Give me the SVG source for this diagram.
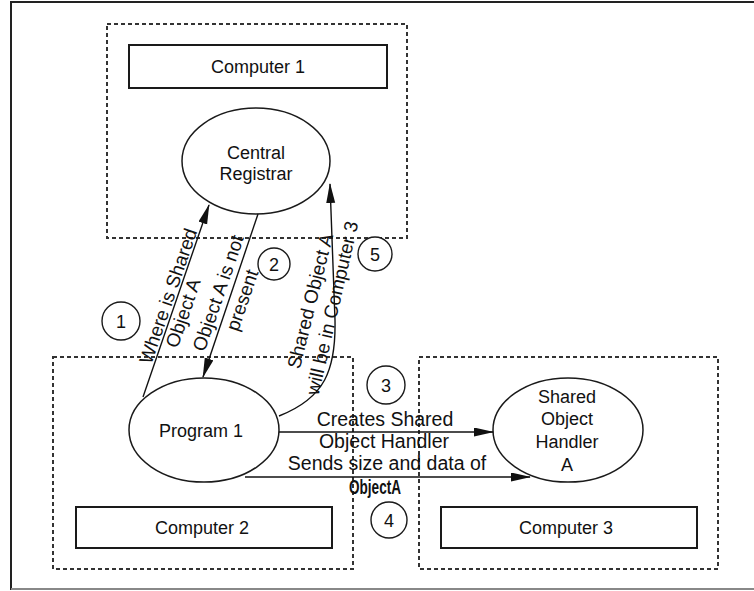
<svg xmlns="http://www.w3.org/2000/svg" width="754" height="591" viewBox="0 0 754 591">
  <style>
    text { font-family: "Liberation Sans", Arial, sans-serif; fill: #111; }
    .node { font-size: 18px; text-anchor: middle; }
    .lbl { font-size: 19.5px; text-anchor: middle; }
    .rot { font-size: 19px; text-anchor: middle; }
    .num { font-size: 18px; text-anchor: middle; }
    .zone { fill: none; stroke: #333; stroke-width: 2; stroke-dasharray: 4 3; }
    .box { fill: #fff; stroke: #1a1a1a; stroke-width: 2; }
    .proc { fill: #fff; stroke: #1a1a1a; stroke-width: 1.5; }
    .step { fill: #fff; stroke: #1a1a1a; stroke-width: 1.4; }
    .edge { fill: none; stroke: #111; stroke-width: 1.4; marker-end: url(#head); }
  </style>
  <defs>
    <marker id="head" markerUnits="userSpaceOnUse" markerWidth="20" markerHeight="10" refX="19" refY="4.5" orient="auto">
      <path d="M0,0 L20,4.5 L0,9 z" fill="#111"/>
    </marker>
  </defs>

  <rect width="754" height="591" fill="#fff"/>
  <!-- outer frame -->
  <rect x="11" y="2" width="760" height="587" fill="none" stroke="#222" stroke-width="2"/>
  <line x1="11" y1="589" x2="754" y2="589" stroke="#888" stroke-width="2"/>

  <!-- machine zones -->
  <g id="computer1">
    <rect class="zone" x="107" y="24" width="300" height="214"/>
    <rect class="box" x="129" y="45" width="258" height="43"/>
    <text class="node" x="258" y="72.5">Computer 1</text>
  </g>
  <g id="computer2">
    <rect class="zone" x="53" y="357" width="300" height="212"/>
    <rect class="box" x="76" y="507" width="256" height="41"/>
    <text class="node" x="202" y="533.5">Computer 2</text>
  </g>
  <g id="computer3">
    <rect class="zone" x="419" y="357" width="299" height="212"/>
    <rect class="box" x="441" y="507" width="256" height="41"/>
    <text class="node" x="566" y="533.5">Computer 3</text>
  </g>

  <!-- processes -->
  <g id="central-registrar">
    <ellipse class="proc" cx="256" cy="161" rx="74" ry="53"/>
    <text class="node" x="256" y="158.5">Central</text>
    <text class="node" x="256" y="179.5">Registrar</text>
  </g>
  <g id="program1">
    <ellipse class="proc" cx="204" cy="430" rx="75" ry="52"/>
    <text class="node" x="201" y="436.5">Program 1</text>
  </g>
  <g id="shared-object-handler">
    <ellipse class="proc" cx="568" cy="430" rx="75" ry="52"/>
    <text class="node" x="567" y="402.5">Shared</text>
    <text class="node" x="567" y="424.5">Object</text>
    <text class="node" x="567" y="447.5">Handler</text>
    <text class="node" x="567" y="470.5">A</text>
  </g>

  <!-- messages -->
  <g id="connectors">
    <path class="edge" d="M143,397 L209,205"/>
    <path class="edge" d="M258,214 L203,377"/>
    <path class="edge" d="M279,416 C325,398 336,370 335,320 L330,184"/>
    <path class="edge" d="M279,432 L493,432"/>
    <path class="edge" d="M245,477 L530,477"/>

    <text class="rot" transform="translate(168,296) rotate(-71)" dy="0.35em">Where is Shared</text>
    <text class="rot" transform="translate(183,313) rotate(-71)" dy="0.35em">Object A</text>
    <text class="rot" transform="translate(218,293) rotate(-71)" dy="0.35em">Object A is not</text>
    <text class="rot" transform="translate(242,300) rotate(-71)" dy="0.35em">present</text>
    <text class="rot" transform="translate(310,301) rotate(-76)" dy="0.35em">Shared Object A</text>
    <text class="rot" transform="translate(332,308) rotate(-77)" dy="0.35em">will be in Computer 3</text>

    <text class="lbl" x="385" y="426">Creates Shared</text>
    <text class="lbl" x="384" y="448">Object Handler</text>
    <text class="lbl" x="387" y="470">Sends size and data of</text>
    <text class="lbl" x="375" y="494" font-size="16" font-weight="bold" textLength="52" lengthAdjust="spacingAndGlyphs">ObjectA</text>
  </g>

  <!-- step numbers -->
  <g id="step1"><circle class="step" cx="121" cy="321" r="19"/><text class="num" x="121" y="327.5">1</text></g>
  <g id="step2"><circle class="step" cx="274" cy="264" r="16"/><text class="num" x="274" y="270.5">2</text></g>
  <g id="step3"><circle class="step" cx="386" cy="385" r="19"/><text class="num" x="386" y="391.5">3</text></g>
  <g id="step4"><circle class="step" cx="389" cy="520" r="18"/><text class="num" x="389" y="526.5">4</text></g>
  <g id="step5"><circle class="step" cx="375" cy="254" r="17"/><text class="num" x="375" y="260.5">5</text></g>
</svg>
